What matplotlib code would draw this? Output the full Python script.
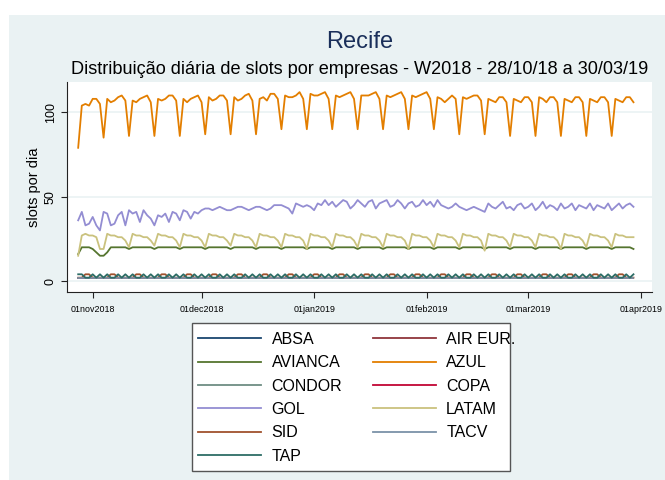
import matplotlib
matplotlib.use("Agg")
import matplotlib.pyplot as plt
from matplotlib.patches import Rectangle
import pandas as pd

plt.rcParams['font.family'] = ['Liberation Sans', 'DejaVu Sans']

# daily slots, 28/10/2018 .. 30/03/2019 (first day is a Sunday)
dates = pd.date_range("2018-10-28", "2019-03-30", freq="D")

azul = [79,
        104, 105, 104, 108, 108, 105, 85,
        108, 106, 107, 109, 110, 107, 86,
        107, 106, 108, 109, 110, 106, 86,
        108, 107, 108, 110, 110, 107, 86,
        108, 106, 108, 109, 110, 106, 87,
        109, 107, 108, 110, 110, 107, 87,
        109, 107, 108, 110, 111, 107, 87,
        108, 109, 107, 111, 111, 108, 90,
        110, 109, 109, 110, 112, 108, 90,
        111, 110, 110, 111, 112, 108, 90,
        110, 109, 110, 111, 112, 108, 90,
        110, 110, 110, 111, 112, 108, 90,
        110, 109, 110, 111, 112, 108, 90,
        110, 109, 110, 111, 112, 108, 90,
        109, 108, 106, 108, 110, 108, 87,
        109, 108, 109, 110, 110, 107, 87,
        108, 107, 106, 109, 109, 106, 86,
        108, 107, 106, 109, 109, 106, 86,
        109, 108, 106, 109, 109, 106, 86,
        108, 107, 106, 109, 109, 106, 86,
        108, 107, 106, 109, 109, 106, 86,
        108, 107, 106, 109, 109, 106]

gol = [36, 41, 33, 34, 38, 33, 30, 41, 40, 33, 34, 39, 41, 33, 42, 40, 41, 35,
       42, 39, 37, 33, 39, 38, 40, 35, 41, 40, 36, 42, 41, 37, 41, 40, 42,
       43, 43, 42, 43, 44, 43, 42, 42, 43, 44, 44, 43, 42, 43, 44, 44, 43, 42,
       43, 45, 45, 45, 44, 43, 40, 46, 45, 44, 45, 44,
       42, 46, 45, 48, 45, 47, 44, 46, 48, 47, 43, 45, 48, 46, 44, 47, 48, 43,
       46, 47, 48, 44, 45, 48, 46, 43, 46, 47, 44, 45, 48,
       45, 47, 44, 48,
       45, 44, 43, 44, 46, 44, 43, 42, 43, 44, 43, 42, 41,
       46, 44, 43, 45, 47, 43, 44, 42, 45, 46, 43, 44, 46, 42, 44, 47, 43, 45,
       44, 42, 46, 43, 44, 46, 42, 45, 44, 43, 46, 42, 45, 44, 43, 46, 42, 44,
       46, 43, 45, 46, 44]

latam = [15,
         27, 28, 27, 27, 26, 19, 19,
         28, 27, 27, 26, 26, 24, 20,
         28, 27, 27, 26, 26, 24, 21,
         28, 27, 27, 26, 26, 24, 20,
         28, 27, 27, 26, 26, 24, 20,
         28, 27, 27, 26, 26, 24, 21,
         28, 27, 27, 26, 26, 24, 20,
         28, 27, 27, 26, 26, 24, 20,
         28, 27, 27, 26, 26, 24, 19,
         28, 27, 27, 26, 26, 24, 20,
         28, 27, 27, 26, 26, 24, 20,
         28, 27, 27, 26, 26, 24, 20,
         28, 27, 27, 26, 26, 24, 19,
         28, 27, 27, 26, 26, 24, 20,
         28, 27, 27, 26, 26, 24, 20,
         28, 27, 27, 26, 26, 24, 18,
         28, 27, 27, 26, 26, 24, 20,
         28, 27, 27, 26, 26, 24, 20,
         28, 27, 27, 26, 26, 24, 19,
         28, 27, 27, 26, 26, 24, 20,
         28, 27, 27, 26, 26, 24, 20,
         28, 27, 27, 26, 26, 26]

avianca = [16,
           20, 20, 20, 19, 17, 15, 15,
           17, 20, 20, 20, 20, 20, 19,
           20, 20, 20, 20, 20, 20, 19,
           20, 20, 20, 20, 20, 20, 19,
           20, 20, 20, 20, 20, 20, 19,
           20, 20, 20, 20, 20, 20, 19,
           20, 20, 20, 20, 20, 20, 19,
           20, 20, 20, 20, 20, 20, 19,
           20, 20, 20, 20, 20, 20, 19,
           20, 20, 20, 20, 20, 20, 19,
           20, 20, 20, 20, 20, 20, 19,
           20, 20, 20, 20, 20, 20, 19,
           20, 20, 20, 20, 20, 20, 19,
           20, 20, 20, 20, 20, 20, 19,
           20, 20, 20, 20, 20, 20, 19,
           20, 20, 20, 20, 20, 20, 19,
           20, 20, 20, 20, 20, 20, 19,
           20, 20, 20, 20, 20, 20, 19,
           20, 20, 20, 20, 20, 20, 19,
           20, 20, 20, 20, 20, 20, 19,
           20, 20, 20, 20, 20, 20, 19,
           20, 20, 20, 20, 20, 19]

sid = [2,
       2, 4, 4, 2, 2, 2, 2,  2, 4, 4, 2, 2, 2, 2,  2, 4, 4, 2, 2, 2, 2,
       2, 4, 4, 2, 2, 2, 2,  2, 4, 4, 2, 2, 2, 2,  2, 4, 4, 2, 2, 2, 2,
       2, 4, 4, 2, 2, 2, 2,  2, 4, 4, 2, 2, 2, 2,  2, 4, 4, 2, 2, 2, 2,
       2, 4, 4, 2, 2, 2, 2,  2, 4, 4, 2, 2, 2, 2,  2, 4, 4, 2, 2, 2, 2,
       2, 4, 4, 2, 2, 2, 2,  2, 4, 4, 2, 2, 2, 2,  2, 4, 4, 2, 2, 2, 2,
       2, 4, 4, 2, 2, 2, 2,  2, 4, 4, 2, 2, 2, 2,  2, 4, 4, 2, 2, 2, 2,
       2, 4, 4, 2, 2, 2, 2,  2, 4, 4, 2, 2, 2, 2,  2, 4, 4, 2, 2, 2, 2,
       2, 4, 4, 2, 2, 2]

tap = [4,
       4, 2, 2, 4, 2, 4, 2,  4, 2, 2, 4, 2, 4, 2,  4, 2, 2, 4, 2, 4, 2,
       4, 2, 2, 4, 2, 4, 2,  4, 2, 2, 4, 2, 4, 2,  4, 2, 2, 4, 2, 4, 2,
       4, 2, 2, 4, 2, 4, 2,  4, 2, 2, 4, 2, 4, 2,  4, 2, 2, 4, 2, 4, 2,
       4, 2, 2, 4, 2, 4, 2,  4, 2, 2, 4, 2, 4, 2,  4, 2, 2, 4, 2, 4, 2,
       4, 2, 2, 4, 2, 4, 2,  4, 2, 2, 4, 2, 4, 2,  4, 2, 2, 4, 2, 4, 2,
       4, 2, 2, 4, 2, 4, 2,  4, 2, 2, 4, 2, 4, 2,  4, 2, 2, 4, 2, 4, 2,
       4, 2, 2, 4, 2, 4, 2,  4, 2, 2, 4, 2, 4, 2,  4, 2, 2, 4, 2, 4, 2,
       4, 2, 2, 4, 2, 4]

# the small operators sit flat on 2 slots a day
absa = [2, 2, 2, 2, 2, 2, 2, 2, 2, 2, 2, 2, 2, 2, 2, 2, 2, 2, 2, 2, 2, 2,
        2, 2, 2, 2, 2, 2, 2, 2, 2, 2, 2, 2, 2, 2, 2, 2, 2, 2, 2, 2, 2, 2,
        2, 2, 2, 2, 2, 2, 2, 2, 2, 2, 2, 2, 2, 2, 2, 2, 2, 2, 2, 2, 2, 2,
        2, 2, 2, 2, 2, 2, 2, 2, 2, 2, 2, 2, 2, 2, 2, 2, 2, 2, 2, 2, 2, 2,
        2, 2, 2, 2, 2, 2, 2, 2, 2, 2, 2, 2, 2, 2, 2, 2, 2, 2, 2, 2, 2, 2,
        2, 2, 2, 2, 2, 2, 2, 2, 2, 2, 2, 2, 2, 2, 2, 2, 2, 2, 2, 2, 2, 2,
        2, 2, 2, 2, 2, 2, 2, 2, 2, 2, 2, 2, 2, 2, 2, 2, 2, 2, 2, 2, 2, 2]
air_eur = list(absa)
condor = list(absa)
copa = list(absa)
tacv = list(absa)

names = ["ABSA", "AIR EUR.", "AVIANCA", "AZUL", "CONDOR", "COPA",
         "GOL", "LATAM", "SID", "TACV", "TAP"]
series = [absa, air_eur, avianca, azul, condor, copa,
          gol, latam, sid, tacv, tap]
colors = ["#1A476F", "#90353B", "#55752F", "#E37E00", "#6E8E84", "#C10534",
          "#938DD2", "#CAC27E", "#A0522D", "#7B92A8", "#2D6D66"]

tick_dates = pd.to_datetime(["2018-11-01", "2018-12-01", "2019-01-01",
                             "2019-02-01", "2019-03-01", "2019-04-01"])
tick_labels = ["01nov2018", "01dec2018", "01jan2019",
               "01feb2019", "01mar2019", "01apr2019"]

W, H = 665, 480
fig = plt.figure(figsize=(W / 100, H / 100), dpi=100)
fig.patches.append(Rectangle((9 / W, 0), 1, 1 - 15 / H, transform=fig.transFigure,
                             facecolor="#EAF2F3", edgecolor="none", zorder=-10))

ax = fig.add_axes([67 / W, 1 - 292 / H, 585 / W, 210 / H])
ax.set_facecolor("white")

lines = {}
for name, vals, col in zip(names, series, colors):
    lines[name], = ax.plot(dates, vals, color=col, lw=1.3, label=name)

nov1 = pd.Timestamp("2018-11-01")
ax.set_xlim(nov1 - pd.Timedelta(days=7.08), nov1 + pd.Timedelta(days=154.1))
ax.set_ylim(-6.5, 118)

ax.set_yticks([0, 50, 100])
ax.set_yticklabels(["0", "50", "100"], rotation=90, va="center", fontsize=9)
ax.set_xticks(tick_dates)
ax.set_xticklabels(tick_labels, fontsize=6.4)
ax.tick_params(length=4.3, width=0.8, pad=3, color="#222222")
ax.tick_params(axis="x", pad=5)
ax.grid(axis="y", color="#EAF2F3", lw=1.2)
ax.set_axisbelow(True)
for s in ["top", "right"]:
    ax.spines[s].set_visible(False)
for s in ["left", "bottom"]:
    ax.spines[s].set_color("#222222")
    ax.spines[s].set_linewidth(0.8)
ax.set_ylabel("slots por dia", fontsize=10.5, labelpad=3)

fig.text(359.5 / W, 1 - 42 / H, "Recife", ha="center", va="center",
         fontsize=17, color="#1A2F5A")
fig.text(359.5 / W, 1 - 70 / H,
         "Distribuição diária de slots por empresas - W2018 - 28/10/18 a 30/03/19",
         ha="center", va="center", fontsize=13.1, color="black")

# legend box (Stata lets the long label spill past it)
fig.patches.append(Rectangle((192 / W, 1 - 471 / H), 318 / W, 148 / H,
                             transform=fig.transFigure, facecolor="white",
                             edgecolor="#555555", lw=1.0, zorder=-5))
order = ["ABSA", "AVIANCA", "CONDOR", "GOL", "SID", "TAP",
         "AIR EUR.", "AZUL", "COPA", "LATAM", "TACV"]
ax.legend([lines[n] for n in order], order, ncol=2, loc="upper left",
          bbox_to_anchor=(198 / W, 1 - 332 / H), bbox_transform=fig.transFigure,
          frameon=False, fontsize=11.5, handlelength=3.94, handletextpad=0.67,
          columnspacing=1.9, labelspacing=0.52, borderpad=0, borderaxespad=0)

fig.savefig("out.png", dpi=100)
